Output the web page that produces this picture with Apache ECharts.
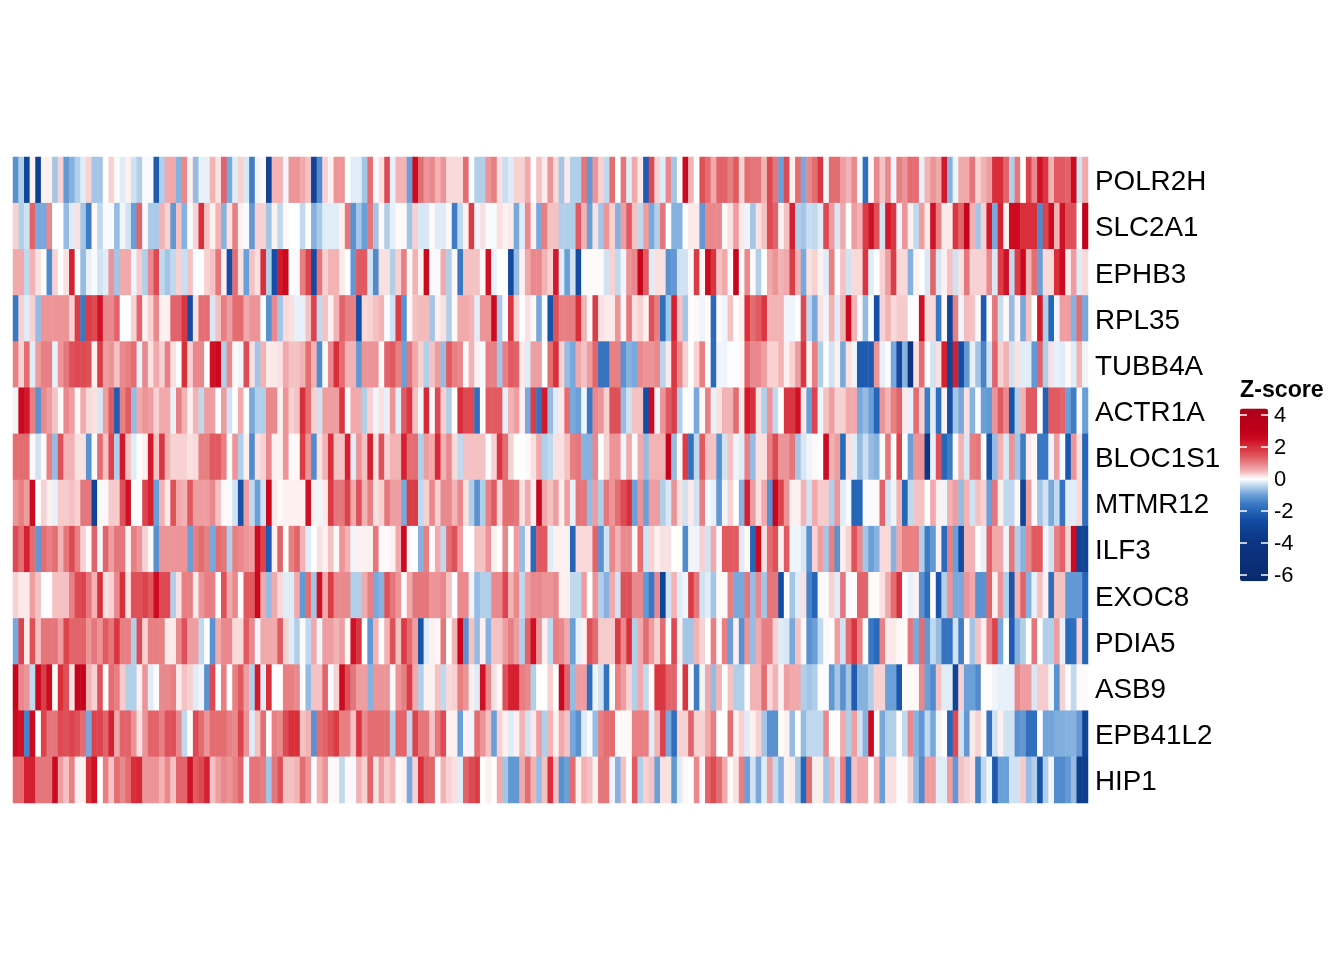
<!DOCTYPE html>
<html lang="en">
<head>
<meta charset="UTF-8">
<title>Z-score heatmap</title>
<script src="https://cdn.jsdelivr.net/npm/echarts@6/dist/echarts.min.js"></script>
<style>
  html, body { margin: 0; background: #fff; }
  #main { width: 1344px; height: 960px; }
</style>
</head>
<body>
<div id="main"></div>
<script>
// one array per gene, left to right
const POLR2H = [-1.2,-.5,-3,.1,-3.3,.1,.1,-.6,.3,-1.1,-.8,-.5,-.2,.3,-.6,-.6,0,.3,.05,-.2,.1,-.3,-.5,-.05,-.05,-2.2,-.5,.6,.6,-.8,.9,.1,-.7,-.15,-.15,.5,.2,1.3,-.9,-.2,.3,-.25,-1.5,-.1,.05,-3,.5,.5,-.1,.8,
  .8,.6,.4,-3,-1.3,.3,.1,.8,.8,0,-.2,-.2,-.6,1.2,.05,.2,1.6,-.15,.5,.5,-1,2.5,1.2,.8,.9,.5,.8,.25,.25,.25,1.2,0,-.5,-.5,.8,1,.2,-.35,-.2,.3,.3,.6,0,.4,.15,.8,.25,-.6,.15,-.5,
  -.5,1.1,-1.1,.8,.3,-.4,1.2,0,1.1,-.2,.6,.15,-2.2,1.6,.3,-.2,.9,-.6,-.05,2.5,.5,0,1.5,1.2,.6,1.3,1.3,1,1.4,.3,1.2,1.1,1.1,.5,1.6,1.1,-1,1.6,.1,1.2,-.9,.9,1.2,1.9,-.1,1.2,1.2,.7,.5,.9,
  -.05,-1.8,.05,.9,.4,.9,-.1,1,.8,1.2,1.2,-.15,.5,.8,.6,2.3,-.8,-.1,.6,.6,1.1,.3,.5,.7,2,2,1.3,-.5,1.1,0,1.7,.9,2.4,1.9,.5,1.4,1.4,1.3,2.5,-.3,.6];
const SLC2A1 = [.3,-.5,-.3,1.3,-.9,-.9,.9,0,0,-.7,-.2,.2,-.6,-1.5,.05,-.4,-.05,-.05,-.7,-.1,-.3,-1,1.3,.05,-.55,-.55,.5,.3,-1.1,.4,-.8,-.05,.3,2,.4,.1,.5,-.8,.2,1,.1,-.05,-1.1,.3,.3,-.6,.1,-.4,.05,0,
  0,-.4,0,-.8,-.55,-.2,-.2,-.2,.1,1.1,-1.2,-.6,-1,1.1,-.6,.05,-.5,-.15,.03,.05,-.6,.3,-.25,-.25,.05,-.2,-.2,.05,-1.5,-.4,.1,1.8,-.1,.2,-.05,-.05,.2,.1,.15,-.9,-.2,.9,.1,-.9,1,.4,.4,-.5,-.5,-.5,
  1.4,.5,-1,.2,-.6,.8,.3,-.8,.7,1.4,.4,-.4,.7,-.9,-.5,1.1,0,-.8,-.8,-.02,.15,.15,-1.1,.9,.9,.9,.03,.2,.7,.15,-.1,-.6,.2,.4,1.6,1.3,.1,.4,2.2,-.5,-.6,-.35,-.4,-.2,1.6,.7,-.25,.6,-.02,.7,
  .5,1.8,2.4,1.5,-.3,2.3,1.9,-.1,.8,.1,-.4,.7,.15,2.4,1,.15,.15,1.9,1.3,2.7,.5,-.6,.3,2.3,-.9,2.2,.1,2.5,2.5,2,2,2,-1.3,1.7,2.5,.5,2.4,1.5,1.5,0,2.8];
const EPHB3 = [.6,.6,-.4,.5,.2,.02,-1.3,.3,0,.2,2.2,0,-.7,-.15,-.05,-.3,-.2,.8,-.6,.6,.6,-.1,.35,-.5,.9,1.6,-.4,-.6,-.4,.3,-.35,.4,-.02,-.02,.3,.4,1.1,.1,-2.5,1.2,.2,-1,.4,.2,2,-.5,-2.5,2.3,2.6,0,
  -.05,1,1.7,-2.7,1.1,.3,.5,.5,.15,0,-1.1,1.4,1.4,-.3,-1.3,.2,.2,-.5,.3,1,.05,.5,.1,2.6,-.05,-.05,.6,-.5,.05,-1.6,.4,.4,.4,.05,2.4,-.15,0,-.02,-2.7,-.7,.1,.6,.9,.9,.5,.3,2.3,-.2,-1,-.3,
  -2.6,-.05,.03,.03,.03,-.3,.3,-.4,-.1,.8,.9,2.7,1.4,-.2,.2,.2,-1.2,-1.1,-.3,-.3,.05,1.8,.05,2.5,1.9,.4,.6,.05,2.7,.05,.9,.05,-.5,0,.6,.8,.5,.6,1.8,.5,-.9,.2,.3,.1,-.2,1,-.05,.4,-.3,.25,
  .25,1.9,-.2,0,.3,.7,1.8,.25,.25,-.8,.1,0,-.25,1.3,-.25,.1,.4,-.3,.2,1.1,.3,.3,.3,.9,-.25,1.8,2.4,-.4,1.8,2.6,.5,1.2,-1,.25,.25,2,2.5,.15,.7,-.2,.25];
const RPL35 = [-1.6,.3,-.2,.3,-.7,.8,.8,.8,.8,.8,.3,1.8,-1.6,1.8,1.6,2.4,.9,.9,1.3,-.02,-.02,.3,1.3,.1,.3,.9,.1,.1,1.3,1.3,1.9,-2.6,.2,1.2,1.2,-.25,.4,1,.7,1.2,1.2,.6,.8,.8,-.02,-1.2,.9,-.6,.25,.2,
  -.15,-.15,.4,1.7,-.4,.4,.1,.5,1.3,1,1,-2.5,.25,.3,.4,.5,-.02,-.3,1.8,-1.2,.05,.4,.45,.45,-.6,.1,.2,-.5,.03,.6,.6,.5,-.2,.8,.8,2.5,-.55,.03,1.9,.3,0,.2,.05,-.9,-.02,-2.4,1.5,1,1,1,
  2,.5,.05,1.8,.2,.15,.15,.8,.05,1.1,.2,.3,.1,1.5,1,-1.8,-.6,2.2,.4,-.6,.02,.05,-.1,.03,-1.9,.03,-.1,.4,.02,.1,2,1.2,1.4,1.9,.5,.5,.5,-.1,-.1,-.02,1.6,-.4,-.9,.2,-.1,.5,-.2,.5,2.6,.5,
  .05,-.7,-.02,-2.5,.3,.5,.25,.35,.35,-.02,-.02,2.4,.25,.25,-1.6,.05,-3,1,-.1,.45,.4,.05,-2.2,.05,1.1,-.35,.05,-.7,.1,-.9,.4,0,2.3,-.5,-2,-.1,.7,.7,-.8,1.2,-.9];
const TUBB4A = [1,.3,1.2,-.2,.7,1,1,-.15,.8,1.1,1.5,1.6,1.6,1.5,.1,1.8,.7,.8,.4,.9,1,1.2,-.15,.9,.2,.6,.3,1,.2,-.02,2,.3,.9,.9,.02,2.4,2.6,-.5,.9,.05,-.1,1.6,.2,-.6,.5,.15,.15,.2,.6,.4,
  .4,.5,1.2,.5,-1.3,-.05,.9,2,1.2,.5,.5,-1.1,.8,.8,.8,.03,1.3,1.4,1,-1,1.1,.6,.3,-.5,.4,.7,-.7,1.4,1,.9,.05,.5,.1,-.05,1,1,-.6,1,1.4,1.3,.15,-.2,.7,.7,0,1.2,2,.3,-.7,-.9,
  .6,.4,.7,1.3,-1.7,-1.7,1,1,-1.2,-.8,-.9,.9,.8,.8,.9,-.45,.15,1.9,.9,.3,0,.3,1,.02,-1.9,-.1,-.1,-.02,-.02,.05,1.3,.9,.9,.7,.3,.3,.5,.1,.3,.7,1.9,.1,1,-.5,-.02,-.3,.1,-.9,.2,-.1,
  -2.2,-2.2,-2.2,.8,-.15,-.03,-.9,-2.7,-.8,-4,.2,1.2,.02,-.3,.2,2.2,-3,2.2,-2.5,-1.1,-.15,-.6,-1.4,-.3,1.3,.3,.5,-.3,.2,-.2,-.2,-1.1,1.3,-.5,.2,-.15,-.2,.05,-.2,.5,-.1];
const ACTR1A = [-.1,2.6,2.3,1,-1.2,.9,.7,.4,.03,.9,.7,.05,.6,.25,.2,-.25,.7,1.4,-2.2,1,1.4,-.7,.6,.8,.7,.3,.6,.6,-.15,1,.5,.1,.5,-.4,.7,.7,-.02,.7,-.3,0,.6,-.02,-.9,-.5,-.5,.9,.9,.1,.8,.3,
  .4,2,1.2,.3,-.3,.7,.7,.7,1.9,-.05,.6,.6,-.5,.3,-.1,.2,-.15,.8,-.2,1.4,1.9,.4,-.1,2.1,.03,1.6,.3,-.5,0,2,1.6,1.6,-1.8,0,1.4,1.4,1.4,-.15,.5,.7,.1,-.9,1.8,-1.7,2.3,-.7,-.2,.15,1.2,-.9,
  -1,-.1,-1.6,.9,.8,.3,1.5,1.5,-.7,-.3,.4,.4,-2.5,2.5,-.1,.8,1.4,1.8,-.5,-.03,-.03,-.9,.05,1,-.15,.2,.5,.5,1.2,.15,2.3,2,.2,-.5,.8,-.4,0,1.9,1.9,2.4,.15,-1,1.7,-.1,.4,.7,.3,.3,.6,.6,
  -.9,-.7,-1,-2,.8,.5,1,1.3,.15,-.15,1.2,.3,-1.5,-.2,-1.8,.1,-2.5,-.6,-.9,.2,-.8,-.05,-1,-1.1,.8,1.4,.9,-2.4,-.5,.5,1.4,1.4,0,-2.1,1.4,1.4,1.3,-1,-1.5,-.05,-1];
const BLOC1S1 = [1.2,1.2,1.2,.05,-.3,.03,1,-.7,1.5,.5,.5,.2,.2,-1.2,-.05,1.2,.4,1.7,-.5,2.3,.4,-.2,0,.1,2.3,.4,1.9,.5,.3,.3,.3,.2,.25,1,1,1.4,1.4,1,-.05,.8,-.5,.1,-1.3,.2,.3,.9,.1,.1,.8,.05,
  .05,1.8,.8,-1.3,.2,.5,2,.4,.4,2.2,-.2,.8,.4,2.2,.2,1.5,.3,.5,.5,2.2,1.2,1.2,-.5,.7,.6,2.1,.5,.9,.25,-.4,.4,.4,.4,.4,-.05,.3,1.9,1.2,.3,0,0,.05,.2,.6,-.5,-.4,.2,.2,.4,1,
  1.1,-.8,-.8,.9,0,.3,.8,.8,-.1,.6,-.05,.6,-.7,.5,.5,.5,2.8,-.7,.05,1.8,-1.7,-.4,1.4,.4,.4,-1.2,-.3,.4,-.1,-.2,1,-.7,.2,.2,1,1.6,.8,.8,1.1,-.6,-.25,-.1,.05,0,2.5,.5,.7,-1.9,.2,-.2,
  -.7,-.35,-.7,-.8,.05,1.1,0,1.7,0,-1,.8,.8,-3.8,-.15,1.5,-2,-1.5,-.05,.5,-.25,1,1.1,-.02,-2.4,-.7,.5,-.25,.8,-.6,-1.5,.15,.05,-1.6,-1.6,-.1,.7,0,-2.3,.8,.2,-2];
const MTMR12 = [.8,1,.7,2.5,0,.3,.1,-.15,.35,.35,.4,.3,1.1,1.1,-3,-.05,.05,.35,.35,1.5,2.4,-.03,-.03,1.7,2.2,-1,.5,.15,1.5,.6,.5,1.4,.7,.7,.7,.9,.4,.03,-.05,-.3,-2.4,.7,-.4,-1,-.3,2.6,.15,.05,.1,.1,
  .1,.1,2.4,.1,-.1,.15,1.8,1.1,1.1,1.7,.6,1.5,.5,1,.2,.3,1.1,.7,.7,-.9,1.8,1.8,-.4,.3,.9,.3,.9,.9,.5,.9,.2,-.5,-1.2,-.5,1,1.4,.25,1.2,1.2,1.1,.2,.6,.1,2.6,.6,.4,.7,.1,.7,-.15,
  1.1,1.1,-.7,.7,-.5,1.1,.8,1.2,1.6,2,-1,.8,-1,.7,.7,-.5,-.25,.8,.2,-.3,.15,-.3,1,-.05,-.15,-1.1,-.1,.3,0,-.8,2.2,.7,.2,.6,-1.2,2.7,1.7,.8,.1,.1,.5,-.3,.6,.35,.35,-.5,.8,-.2,-.05,-2,
  -2,-.05,-.05,.05,1.3,-.3,-.1,.5,-2,-.4,.4,.4,0,.6,.1,-.1,.5,.7,-.7,.5,-.3,.4,.3,-1,1.1,.1,-.4,-.4,.05,-3,.7,.05,-.6,-.3,-.9,-.4,-1.7,-.2,-.2,.25,-1.8];
const ILF3 = [1.6,1.2,2.2,1.2,-1.1,1.2,1,1.2,.5,1.1,1.6,1,.3,.05,1.3,-.1,1.3,.7,1.1,1.1,.1,1,.8,.3,.05,-1.2,.8,.8,.8,.8,.8,-1,1,1.2,1,-.9,1.2,1.1,-.5,1,.9,.8,.7,2.5,1.7,-2.2,.1,1.3,.02,1,
  1.3,.5,-.2,0,.2,.1,.4,.05,.8,.5,-.1,.1,.1,.1,1.1,.03,.03,.1,.6,2.6,.03,0,-.8,1,.02,.6,-.4,1.2,1.5,.7,-.01,-.01,.4,.4,.8,.1,-.02,.9,0,.7,-.7,.1,-1.9,1.4,1.4,-.2,.1,.1,.1,-2,
  .25,.25,.25,1.3,-1.2,-.3,.9,.5,.9,.9,.05,1.2,-.3,.3,.1,.2,.2,0,0,-1.3,-.1,-.1,.3,-.3,.6,-.05,1.4,1.4,1.4,-.2,.05,-2,2.5,.2,1.2,1.5,.1,1.4,-.1,-.1,-.25,-1.2,.3,.7,-.6,1,-1.2,.1,.3,1.5,
  .9,-.6,-1,-.8,.25,.25,-.8,.6,1,1,1,-.5,-1.5,-1.1,.1,-1.9,1,-1,-2.7,.5,.5,.02,-.15,1.3,.6,.6,-.1,1.1,-.5,-.8,.9,1.4,1.4,-.1,-.3,1,1.3,.3,2.5,-3,-3];
const EXOC8 = [.3,.15,.15,.7,.4,0,0,.4,.4,.4,1,1.6,1.7,1.1,.5,2,.2,.3,.9,2,.2,1.5,1.5,1.7,1.4,2.5,1.6,1.6,-.5,.2,1,1,.15,.8,1,1,.03,1.5,.6,.9,.03,1.4,1.4,2.6,.6,-.7,.6,.25,-.2,-.2,
  .6,-1.1,1.2,-.6,2.4,.6,1.8,.9,.9,.9,-.5,-.5,.6,1,-.9,-.8,1.5,1.1,.8,.05,.6,1.1,1.1,1.1,.8,.8,.9,.4,0,.9,.9,-.1,-.7,-.5,-.5,.9,.9,1.7,.5,.9,-.4,.7,.9,.9,.8,.8,.9,.1,.1,-.4,
  -.4,.7,0,.8,-.5,-.8,.6,-.3,1.5,1.5,.9,.9,-1.1,-1.6,.9,-3,-.3,.5,-.2,-.1,1.8,1.1,-.3,-.2,-.6,.03,.03,1,-.9,-.9,1.1,-.7,.9,-.6,1.1,1.1,-2.6,.02,-.6,-.2,.2,-1.4,-2,.05,-.05,.3,-.2,1.1,-.05,0,
  1.3,1.3,.02,.02,.2,.6,1.2,2,.03,-.15,.1,-1.2,-1.8,.02,-2.3,-.5,.8,-.9,-.9,.8,.6,-1.2,-1.2,1.3,.1,.8,-.5,-2.3,.5,1.3,-.8,-.15,.4,.1,-1.8,.4,.4,-1.1,-1.1,-1.1,-2];
const PDIA5 = [-.9,1.7,.15,1.5,.4,1.1,1.1,1.1,.7,1.7,1.3,1.3,1.3,.8,1.1,.8,1.4,1.1,1.9,1,1,-.5,1.6,.3,1,1,1,.15,.15,.9,1.5,.7,.7,-.4,-.02,-1.2,.6,.9,.9,.25,.25,1.4,.9,-.1,.6,.6,.6,1.4,.3,-.2,
  -.5,-.03,-.4,.6,-.1,.7,.7,.5,.7,.05,2.4,1.9,0,-1.1,.5,-.02,.5,1.5,.4,1.8,1.2,.7,-2.4,-.2,.1,.05,1.1,0,.5,2.7,-1.2,.4,-.7,.1,-.8,.4,.4,.7,1,.7,-.5,1.3,2.4,.8,.1,-.4,1,.9,.6,-1,
  -.15,.1,1.5,1.2,.35,.35,.35,1.8,.9,2,-.5,.6,1.2,.7,.3,1.2,-.05,1.6,.1,-.6,-.6,.5,.3,0,1,.05,1,-1,.1,-1.2,.8,-.7,.6,1,1,.3,-.2,-.25,-.9,.4,.05,-1.2,-1,-.4,.05,-.02,.7,-.3,1.2,1.9,
  1,-.03,-1.6,-1.9,1,.15,.15,.05,.03,1.1,-.9,1.2,-1.1,-.4,-.7,-1.7,-1.7,-.3,-1.5,.05,-.6,.4,.1,1,1.7,-.9,-.02,-2.2,-.8,-.5,-.02,1.1,0,-.5,-.5,.7,-.15,-1.9,-1.8,.3,-2];
const ASB9 = [2.7,.9,.8,-.4,2.6,1.8,2.5,.03,2,1.5,.2,2.8,2.8,.5,.3,1.5,0,1.2,1,.35,-.5,-.5,.1,.8,-.2,-.03,.9,.9,1,.15,.4,.3,-.2,-.1,-1.2,1.6,-.02,1,0,1,1.4,.7,-.5,2.3,-.2,2,-.02,-.02,1,1,
  .9,.02,-.7,.4,.4,1.3,-.05,.3,2.5,1.5,1.1,.7,.7,-.8,.8,.8,.8,.05,.8,1,1.8,.6,-.5,.1,.1,.4,-.4,.25,.3,1,.8,.1,-.2,2.4,.9,.2,.05,1.5,2.2,2.2,1,.9,-.5,0,0,.3,0,2.6,1.3,-.7,
  .7,.7,-1.8,-.1,-.3,-1.7,.05,1,.7,.3,-.5,.6,-.4,.03,1.9,1.9,1.3,1.3,.05,1.9,.03,-1.5,-.1,.6,-.7,.5,0,.4,-.5,-.5,.02,.5,.5,1.2,.25,.5,.1,.7,.6,.6,-.5,-.6,-.5,-.02,-.02,-1.1,-.6,-1.2,-.6,-2.2,
  -.8,-.8,-.5,.3,.3,-1,-1,-2.3,.05,.05,.05,.9,-1,-1.3,.4,-.2,-.2,-3,.3,-1,-1,-1.3,.02,.02,-.1,-.15,-.15,-.15,.9,.7,.7,-.25,.35,.35,-.1,-1.2,.3,-.05,-.4,.03,.03];
const EPB41L2 = [2.5,2.4,-1.4,2.5,0,1.7,1.1,1.1,1.6,1.5,1.7,1.5,1.2,-.9,1.7,1.7,1.3,2.2,.6,1.3,1.3,.8,.2,.8,1.3,1.3,1,1.5,1.5,.9,-.4,.02,1.6,1.2,.8,1.2,1.2,1.2,1,.9,1.7,.8,-.2,.4,1.2,.05,1,.9,1.6,2,
  2,.4,.5,-1.2,1.2,1.3,1.5,1.8,1,1,.4,1.9,.9,1.2,1.2,1.2,1.2,-.5,1.3,1.3,-.4,1.7,1.1,1.1,.4,1.1,1.6,.1,.1,-1,.1,-.1,1.2,.8,.4,-1,.3,.1,-.2,.1,.5,-.3,.15,.7,-.5,.5,.1,.6,.4,-.9,
  -1.2,-.2,-.05,-.7,1,1.2,1.2,.03,.03,.05,1,1,1,-.2,.5,1.7,-.9,-1.8,.3,.3,1.3,.3,.3,.6,1,0,0,1.2,.1,.3,-.2,.1,.3,-.6,-1.2,-1.2,.02,.1,-.7,.02,-.7,-.4,-.4,-.4,.9,0,0,.6,-.5,.7,
  -.3,-.8,2.6,.05,-.9,-.5,-.5,.02,-.4,.9,-.8,-1.1,-.4,-.9,-.1,.02,-2,1.6,-.3,-1.1,.15,.3,.05,-1.7,-.3,.1,-.3,-.3,-1.2,-1.1,-1.8,-1.8,0,-.95,-.95,-.85,-.85,-.8,-.8,-1.1,-3];
const HIP1 = [1.2,1.2,2.2,2.2,1.1,1.1,1.1,2.5,.7,.4,1,.1,.1,2,2.4,0,1,.4,1.2,.9,1.2,2,2.1,.8,.8,.8,.5,.9,.4,1.3,1.3,2.4,1.4,1.6,2.2,.4,.7,.9,.8,1,1.3,.05,1.1,1.1,1,-.6,1.1,1.5,.4,.4,
  .5,1.2,.8,0,.5,.8,.05,.05,-.4,.05,-.05,.5,.3,1.3,.2,.7,.35,.5,.05,.1,-.9,.3,2,1.3,1.3,.05,.5,.3,.2,-.2,1.3,1.6,1.8,.02,.1,0,.6,-.6,-1.1,-1.1,.6,1.2,.5,-.7,.4,2,.4,-1.2,-1,1.2,
  .1,.5,.4,.1,1.1,1.1,-.1,-.8,.4,0,1.4,-.5,.3,.4,-1,.2,.2,-1.1,-.2,.05,0,.9,.05,1.3,1.6,1.2,.6,.03,.2,1,-1,-.3,-.9,-.2,.7,-.4,-.8,.1,.15,-.6,-2,1.2,.12,.12,-.6,.5,-.2,1,-1.8,.4,
  .6,.6,0,.5,-1,.2,.2,-.03,-.03,.3,-.7,-1.3,.7,.7,-.2,-.2,.7,-1.1,.4,.3,.2,-1.4,-.4,-.1,-2.3,-1,-1,-.3,-.3,.35,-.7,-.5,-2.4,-.5,-.1,-1.3,-1.3,-1.1,-.7,-3.4,-3.4];

const genes = ['POLR2H','SLC2A1','EPHB3','RPL35','TUBB4A','ACTR1A','BLOC1S1','MTMR12','ILF3','EXOC8','PDIA5','ASB9','EPB41L2','HIP1'];
const rows = [POLR2H,SLC2A1,EPHB3,RPL35,TUBB4A,ACTR1A,BLOC1S1,MTMR12,ILF3,EXOC8,PDIA5,ASB9,EPB41L2,HIP1];
const legendTicks = [-6,-4,-2,0,2,4];

// colour ramp: [value, colour]
const ramp = [[-6.4,'#0a2a6e'],[-4,'#0b3483'],[-3,'#0f4496'],[-2.5,'#154ea6'],[-2,'#2566b8'],[-1.5,'#3f7cc6'],[-1,'#6b9fd8'],[-.5,'#b2cfea'],
  [0,'#ffffff'],[.5,'#f3b3b5'],[1,'#e77f83'],[1.5,'#df5159'],[2,'#d92f3b'],[2.5,'#cc0a20'],[3,'#c00018'],[4.4,'#ae0019']];

function rampColor(v) {
  for (let i = 1; i < ramp.length; i++) {
    if (v <= ramp[i][0] + 1e-9) {
      const t = (v - ramp[i-1][0]) / (ramp[i][0] - ramp[i-1][0]);
      const a = echarts.color.parse(ramp[i-1][1]), b = echarts.color.parse(ramp[i][1]);
      return 'rgb(' + [0,1,2].map(k => Math.round(a[k] + (b[k]-a[k])*t)).join(',') + ')';
    }
  }
  return ramp[ramp.length-1][1];
}
const rampColors = [];
for (let i = 0; i <= 108; i++) rampColors.push(rampColor(-6.4 + i/10));

const samples = POLR2H.map((d, i) => 'S' + (i+1));
const cells = [];
rows.forEach((r, y) => r.forEach((v, x) => cells.push([x, y, v])));

const chart = echarts.init(document.getElementById('main'), null, {renderer: 'canvas'});
const font = '"Liberation Sans", Arial, sans-serif';
const whiteTick = {color: '#fff', width: 1.5};
chart.setOption({
  animation: false,
  backgroundColor: '#fff',
  title: {
    text: 'Z-score', left: 1240, top: 379, padding: 0,
    textStyle: {fontFamily: font, fontSize: 23.2, fontWeight: 'bold', color: '#000'}
  },
  // grids 2 and 3 only carry the text, a little lower than the marks
  grid: [
    {left: 13, top: 157, width: 1075, height: 646},
    {left: 1240, top: 408.5, width: 28, height: 172.8},
    {left: 13, top: 159.5, width: 1075, height: 646},
    {left: 1240, top: 410, width: 28, height: 172.8}
  ],
  xAxis: [
    {type: 'category', gridIndex: 0, data: samples, show: false},
    {type: 'value', gridIndex: 1, show: false},
    {type: 'value', gridIndex: 2, show: false},
    {type: 'value', gridIndex: 3, show: false}
  ],
  yAxis: [
    {type: 'category', gridIndex: 0, data: genes, inverse: true, show: false},
    {
      type: 'value', gridIndex: 1, position: 'left', min: -6.4, max: 4.4, z: 10,
      splitLine: {show: false}, axisLine: {show: false}, axisLabel: {show: false},
      axisTick: {inside: true, length: 7, customValues: legendTicks, lineStyle: whiteTick}
    },
    {
      // same ticks, moved to the bar's right edge
      type: 'value', gridIndex: 1, position: 'left', offset: -28, min: -6.4, max: 4.4, z: 10,
      splitLine: {show: false}, axisLine: {show: false}, axisLabel: {show: false},
      axisTick: {length: 7, customValues: legendTicks, lineStyle: whiteTick}
    },
    {
      type: 'category', gridIndex: 2, data: genes, inverse: true, position: 'right',
      axisLine: {show: false}, axisTick: {show: false},
      axisLabel: {interval: 0, margin: 7, fontFamily: font, fontSize: 27.8, color: '#000'}
    },
    {
      type: 'value', gridIndex: 3, position: 'right', min: -6.4, max: 4.4,
      splitLine: {show: false}, axisLine: {show: false}, axisTick: {show: false},
      axisLabel: {margin: 6, customValues: legendTicks, fontFamily: font, fontSize: 22, color: '#000'}
    }
  ],
  visualMap: {
    type: 'continuous', seriesIndex: 0, min: -6.4, max: 4.4, left: 1240, top: 408.5, padding: 0,
    itemWidth: 28, itemHeight: 172.8, calculable: false, realtime: false, hoverLink: false,
    showLabel: false, text: null, inRange: {color: rampColors}
  },
  series: [{
    type: 'heatmap', xAxisIndex: 0, yAxisIndex: 0, data: cells, progressive: 0,
    itemStyle: {borderWidth: 0}, emphasis: {disabled: true}
  }]
});
</script>
</body>
</html>
